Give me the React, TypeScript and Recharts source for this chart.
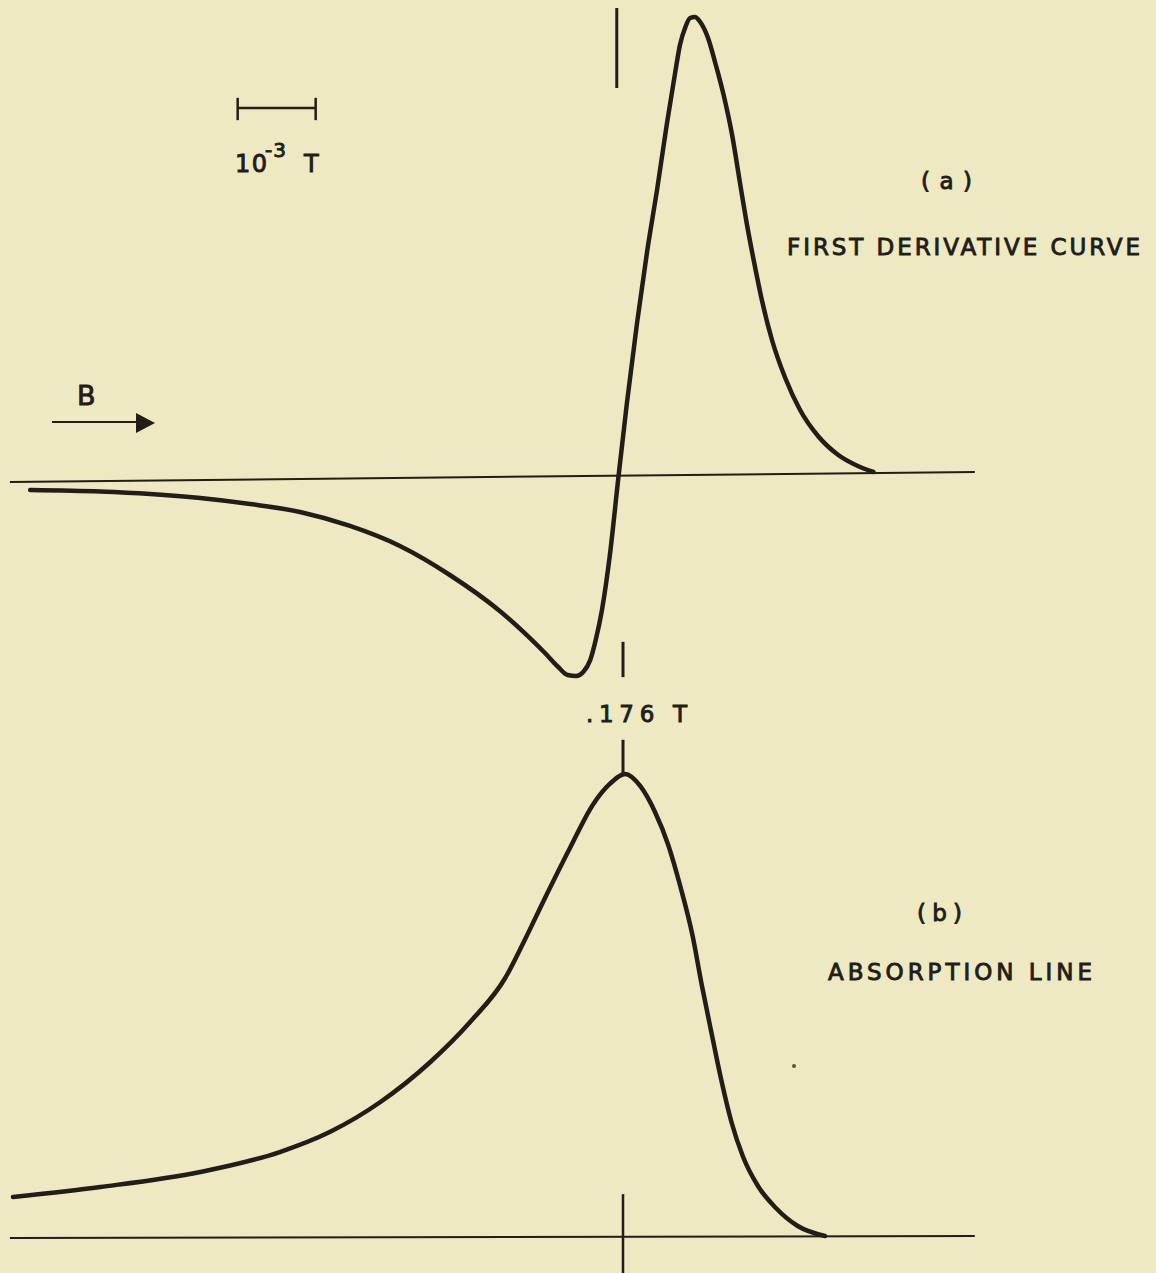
import React from "react";
import { LineChart, Line, XAxis, YAxis, ReferenceLine } from "recharts";

// Magnetic field B in mT; signal in arbitrary units.
const fieldDomain: [number, number] = [168.013, 182.833];
const derivDomain: [number, number] = [-180, 105];
const absDomain: [number, number] = [-8, 268];

// (a) first derivative curve
const derivField = [
  168.4, 169.3, 169.94, 170.58, 171.22, 171.86, 172.5, 173.14, 173.78, 174.42,
  174.74, 175.0, 175.17, 175.29, 175.4, 175.49, 175.58, 175.65, 175.73, 175.83,
  175.94, 176.05, 176.18, 176.31, 176.44, 176.56, 176.67, 176.73, 176.8, 176.86,
  176.92, 176.99, 177.09, 177.19, 177.29, 177.4, 177.5, 177.59, 177.68, 177.78,
  177.91, 178.08, 178.27, 178.5, 178.76, 179.01, 179.21,
];
const derivSignal = [
  -4.7, -5.04, -5.6, -6.49, -7.84, -9.63, -12.76, -17.24, -23.73, -31.79,
  -36.72, -41.19, -44.33, -46.12, -46.34, -45.45, -42.76, -38.28, -31.57, -19.48,
  -2.01, 14.78, 32.69, 48.81, 62.91, 77.01, 88.88, 94.92, 98.96, 100.97,
  101.19, 100.07, 96.49, 90.45, 83.73, 74.66, 64.03, 54.63, 46.34, 37.84,
  28.88, 20.37, 13.21, 7.39, 3.13, 0.67, -0.67,
];
const derivBaseField = [168.14, 180.51];
const derivBaseSignal = [-2.91, -0.67];

// (b) absorption line
const absField = [
  168.18, 169.3, 170.58, 171.6, 172.24, 172.89, 173.53, 174.04, 174.49, 174.74,
  175.0, 175.32, 175.62, 175.83, 176.03, 176.22, 176.41, 176.58, 176.73, 176.89,
  177.01, 177.14, 177.26, 177.39, 177.54, 177.73, 177.96, 178.24, 178.59,
];
const absSignal = [
  8.48, 10.65, 13.9, 18.23, 22.57, 29.08, 37.75, 46.42, 55.96, 64.2,
  73.31, 84.15, 93.69, 98.03, 100.19, 97.59, 91.95, 84.8, 76.12, 65.28,
  54.44, 43.6, 33.85, 24.74, 17.15, 10.86, 6.09, 2.19, 0.02,
];
const absBaseField = [168.14, 180.51];
const absBaseSignal = [-0.4, 0.0];

// resonance field markers and the 1 mT (10^-3 T) scale bar
const resonanceField = 176.0;
const upperMarkField = 175.92;
const scaleBarStart = 171.06;
const scaleBarEnd = 172.06;

const pairs = (xs: number[], ys: number[]) => xs.map((b, i) => ({ b, s: ys[i] }));

const derivData = pairs(derivField, derivSignal);
const derivBase = pairs(derivBaseField, derivBaseSignal);
const absData = pairs(absField, absSignal);
const absBase = pairs(absBaseField, absBaseSignal);

const W = 1156;
const H = 1273;
const INK = "#221d17";
const PAPER = "#eee8c3";
const FONT = "'DejaVu Sans', 'Liberation Sans', sans-serif";

const layer: React.CSSProperties = { position: "absolute", left: 0, top: 0 };

export default function App() {
  return (
    <div style={{ position: "absolute", left: 0, top: 0, width: W, height: H, background: PAPER, overflow: "hidden" }}>
      <div style={layer}>
        <LineChart width={W} height={H} margin={{ top: 0, right: 0, bottom: 0, left: 0 }}>
          <XAxis type="number" dataKey="b" domain={fieldDomain} hide allowDataOverflow />
          <YAxis type="number" domain={derivDomain} hide allowDataOverflow />
          <Line data={derivBase} dataKey="s" type="linear" dot={false} stroke={INK} strokeWidth={2} isAnimationActive={false} />
          <Line data={derivData} dataKey="s" type="monotone" dot={false} stroke={INK} strokeWidth={4.5} strokeLinecap="round" isAnimationActive={false} />
          <ReferenceLine segment={[{ x: upperMarkField, y: 103.2 }, { x: upperMarkField, y: 85.3 }]} stroke={INK} strokeWidth={3} ifOverflow="visible" />
          <ReferenceLine segment={[{ x: resonanceField, y: -38.7 }, { x: resonanceField, y: -46.6 }]} stroke={INK} strokeWidth={3} ifOverflow="visible" />
          <ReferenceLine segment={[{ x: scaleBarStart, y: 80.8 }, { x: scaleBarEnd, y: 80.8 }]} stroke={INK} strokeWidth={2.5} ifOverflow="visible" />
          <ReferenceLine segment={[{ x: scaleBarStart, y: 83.1 }, { x: scaleBarStart, y: 78.1 }]} stroke={INK} strokeWidth={2.5} ifOverflow="visible" />
          <ReferenceLine segment={[{ x: scaleBarEnd, y: 83.1 }, { x: scaleBarEnd, y: 78.1 }]} stroke={INK} strokeWidth={2.5} ifOverflow="visible" />
        </LineChart>
      </div>
      <div style={layer}>
        <LineChart width={W} height={H} margin={{ top: 0, right: 0, bottom: 0, left: 0 }}>
          <XAxis type="number" dataKey="b" domain={fieldDomain} hide allowDataOverflow />
          <YAxis type="number" domain={absDomain} hide allowDataOverflow />
          <Line data={absBase} dataKey="s" type="linear" dot={false} stroke={INK} strokeWidth={2} isAnimationActive={false} />
          <Line data={absData} dataKey="s" type="monotone" dot={false} stroke={INK} strokeWidth={4.5} strokeLinecap="round" isAnimationActive={false} />
          <ReferenceLine segment={[{ x: resonanceField, y: 107.6 }, { x: resonanceField, y: 100.4 }]} stroke={INK} strokeWidth={3} ifOverflow="visible" />
          <ReferenceLine segment={[{ x: resonanceField, y: 9.1 }, { x: resonanceField, y: -8 }]} stroke={INK} strokeWidth={2.5} ifOverflow="visible" />
        </LineChart>
      </div>
      <svg style={layer} width={W} height={H}>
        <g fill={INK} stroke={INK} strokeWidth={0.9} fontFamily={FONT}>
          <text x={235} y={172} fontSize={24} textLength={32} lengthAdjust="spacing">10</text>
          <text x={265} y={157} fontSize={20} textLength={21} lengthAdjust="spacing">-3</text>
          <text x={304} y={172} fontSize={24}>T</text>

          <text x={77} y={405} fontSize={27}>B</text>

          <text x={921} y={189} fontSize={23} textLength={51} lengthAdjust="spacing">(a)</text>
          <text x={787} y={255} fontSize={23} textLength={353} lengthAdjust="spacing">FIRST DERIVATIVE CURVE</text>

          <text x={586} y={722} fontSize={23} textLength={101} lengthAdjust="spacing">.176 T</text>

          <text x={917} y={921} fontSize={23} textLength={45} lengthAdjust="spacing">(b)</text>
          <text x={828} y={980} fontSize={23} textLength={264} lengthAdjust="spacing">ABSORPTION LINE</text>
        </g>
        <line x1={52} y1={422} x2={140} y2={422} stroke={INK} strokeWidth={2} />
        <polygon points="136,413 155,423 136,433" fill={INK} />
        <circle cx={794} cy={1066} r={2} fill="#5a5347" />
      </svg>
    </div>
  );
}
